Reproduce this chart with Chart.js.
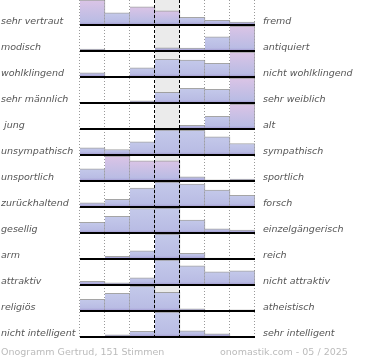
<!DOCTYPE html>
<html>
<head>
<meta charset="utf-8">
<script src="https://cdn.jsdelivr.net/npm/chart.js@4"></script>
<style>
  body { margin: 0; background: #fff; }
  #wrap { position: relative; width: 370px; height: 360px; }
  .foot { position: absolute; top: 346px; font: 9.5px "DejaVu Sans", sans-serif; color: #bbb; white-space: pre; }
</style>
</head>
<body>
<div id="wrap">
  <canvas id="onogramm" width="370" height="360"></canvas>
  <div class="foot" style="left:1px">Onogramm Gertrud, 151 Stimmen</div>
  <div class="foot" style="left:220px">onomastik.com - 05 / 2025</div>
</div>
<script>
// left / right poles of each row
const leftLabels = ["sehr vertraut", "modisch", "wohlklingend", "sehr männlich", " jung", "unsympathisch",
  "unsportlich", "zurückhaltend", "gesellig", "arm", "attraktiv", "religiös", "nicht intelligent"];
const rightLabels = ["fremd", "antiquiert", "nicht wohlklingend", "sehr weiblich", "alt", "sympathisch",
  "sportlich", "forsch", "einzelgängerisch", "reich", "nicht attraktiv", "atheistisch", "sehr intelligent"];
const steps = ["1", "2", "3", "4", "5", "6", "7"];

// votes per step, relative to the strongest step of the row (= 100)
const votes = [
  [100, 49, 73, 57, 31, 19, 12],
  [8, 0, 0, 13, 12, 57, 100],
  [17, 0, 37, 71, 68, 55, 100],
  [0, 0, 9, 43, 59, 55, 100],
  [0, 0, 0, 0, 15, 51, 100],
  [29, 22, 53, 100, 99, 73, 46],
  [49, 100, 81, 81, 17, 5, 8],
  [17, 31, 76, 100, 92, 68, 47],
  [43, 67, 98, 100, 52, 17, 12],
  [0, 11, 33, 100, 23, 4, 2],
  [15, 9, 29, 100, 77, 53, 57],
  [47, 71, 100, 75, 9, 0, 5],
  [0, 9, 23, 100, 25, 13, 0]
];

// steps voted mostly by women (drawn pink)
const pinkBars = [[0, 2, 3], [6], [6], [6], [6], [], [1, 2, 3], [], [], [], [], [], []];

const ROW = 104;
const TOP = ROW * (leftLabels.length - 1) + 100;
const base = (i) => (leftLabels.length - 1 - i) * ROW;

function barFill(c) {
  const chart = c.chart;
  if (!chart.chartArea || !c.raw) return "#c4c8e8";
  const y = chart.scales.y;
  const y0 = y.getPixelForValue(c.raw[0]);
  const y1 = y.getPixelForValue(c.raw[1]);
  const h = Math.max(1, y0 - y1);
  const g = chart.ctx.createLinearGradient(0, y0, 0, y1);
  const pink = pinkBars[c.datasetIndex].includes(c.dataIndex);
  g.addColorStop(0, "#a095cf");
  g.addColorStop(Math.min(1, 3 / h), "#b9bce4");
  g.addColorStop(1, pink ? "#dbc4e6" : "#c4c9ea");
  return g;
}

const grid = {
  id: "grid",
  beforeDatasetsDraw(chart) {
    const { ctx, chartArea: { top, bottom }, scales: { x } } = chart;
    const half = (x.getPixelForValue(1) - x.getPixelForValue(0)) / 2;
    ctx.save();
    ctx.fillStyle = "#ebebeb";
    ctx.fillRect(x.getPixelForValue(3) - half, top, half * 2, bottom - top);
    ctx.strokeStyle = "#999";
    ctx.lineWidth = 1;
    ctx.setLineDash([1, 2]);
    for (let k = 0; k <= steps.length; k++) {
      if (k === 3 || k === 4) continue;
      const px = Math.round(x.getPixelForValue(0) - half + k * half * 2) - 0.5;
      ctx.beginPath();
      ctx.moveTo(px, top);
      ctx.lineTo(px, bottom);
      ctx.stroke();
    }
    ctx.restore();
  },
  afterDatasetsDraw(chart) {
    const { ctx, chartArea: { left, right, top, bottom }, scales: { x, y } } = chart;
    const half = (x.getPixelForValue(1) - x.getPixelForValue(0)) / 2;
    ctx.save();
    ctx.strokeStyle = "#000";
    ctx.lineWidth = 2;
    leftLabels.forEach((_, i) => {
      const py = y.getPixelForValue(base(i));
      ctx.beginPath();
      ctx.moveTo(left, py);
      ctx.lineTo(right, py);
      ctx.stroke();
    });
    ctx.lineWidth = 1;
    ctx.setLineDash([3, 2]);
    [3, 4].forEach((k) => {
      const px = Math.round(x.getPixelForValue(0) - half + k * half * 2) - 0.5;
      ctx.beginPath();
      ctx.moveTo(px, top);
      ctx.lineTo(px, bottom);
      ctx.stroke();
    });
    ctx.restore();
  }
};

const labelFont = { family: "DejaVu Sans", size: 9.5, style: "italic" };
const rowTicks = (scale) => {
  scale.ticks = leftLabels.map((_, i) => ({ value: base(i) + 12 }));
};
const fitAxis = (width) => (s) => {
  s.width = width;
  s.paddingTop = 0;
  s.paddingBottom = 0;
};

new Chart(document.getElementById("onogramm"), {
  type: "bar",
  data: {
    labels: steps,
    datasets: votes.map((row, i) => ({
      data: row.map((v) => (v > 0 ? [base(i), base(i) + v] : null)),
      backgroundColor: barFill,
      borderColor: "rgba(135,135,135,0.75)",
      borderWidth: { top: 1, right: 1, bottom: 0, left: 0 },
      borderSkipped: false,
      grouped: false,
      categoryPercentage: 1,
      barPercentage: 1
    }))
  },
  options: {
    responsive: false,
    animation: false,
    layout: { padding: { left: 1, right: 0, top: 0, bottom: 23 } },
    plugins: { legend: { display: false }, tooltip: { enabled: false } },
    scales: {
      x: { display: false, offset: true },
      y: {
        position: "left",
        min: 0,
        max: TOP,
        afterBuildTicks: rowTicks,
        afterFit: fitAxis(79),
        grid: { display: false, drawTicks: false },
        border: { display: false },
        ticks: {
          autoSkip: false,
          crossAlign: "far",
          padding: 0,
          color: "#555",
          font: labelFont,
          callback: (v, i) => leftLabels[i]
        }
      },
      y2: {
        position: "right",
        min: 0,
        max: TOP,
        afterBuildTicks: rowTicks,
        afterFit: fitAxis(115),
        grid: { display: false, drawTicks: false },
        border: { display: false },
        ticks: {
          autoSkip: false,
          crossAlign: "near",
          padding: 8,
          color: "#555",
          font: labelFont,
          callback: (v, i) => rightLabels[i]
        }
      }
    }
  },
  plugins: [grid]
});
</script>
</body>
</html>
